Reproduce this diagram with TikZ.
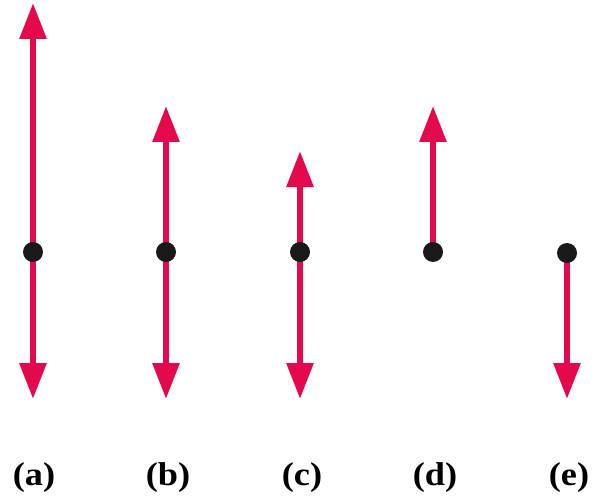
\documentclass[tikz,border=0pt]{standalone}
\usepackage{fontspec}
\setmainfont{Liberation Serif}
\usetikzlibrary{arrows.meta}
\definecolor{vec}{RGB}{228,8,76}
\begin{document}
\begin{tikzpicture}[x=1pt,y=-1pt,
  vecarrow/.style={draw=vec,line width=6pt,-{Triangle[width=26pt,length=36pt]}},
  dotnode/.style={circle,fill=black!90,minimum size=20pt,inner sep=0pt},
  lab/.style={font=\bfseries\fontsize{33}{33}\selectfont,inner sep=0pt}]
\useasboundingbox (0,0) rectangle (596,497);
% dots and tips
\coordinate (pa) at (33,252);
\coordinate (pb) at (166,252);
\coordinate (pc) at (300,252);
\coordinate (pd) at (433,252);
\coordinate (pe) at (567,253);
\coordinate (ua) at (33,3);
\coordinate (ub) at (166,106);
\coordinate (uc) at (300,151);
\coordinate (ud) at (433,106);
\coordinate (la) at (33,399);
\coordinate (lb) at (166,399);
\coordinate (lc) at (300,399);
\coordinate (le) at (567,399);
\draw[vecarrow] (pa) -- (ua);
\draw[vecarrow] (pa) -- (la);
\draw[vecarrow] (pb) -- (ub);
\draw[vecarrow] (pb) -- (lb);
\draw[vecarrow] (pc) -- (uc);
\draw[vecarrow] (pc) -- (lc);
\draw[vecarrow] (pd) -- (ud);
\draw[vecarrow] (pe) -- (le);
\node[dotnode] (da) at (pa) {};
\node[dotnode] (db) at (pb) {};
\node[dotnode] (dc) at (pc) {};
\node[dotnode] (dd) at (pd) {};
\node[dotnode] (de) at (pe) {};
% labels
\node[lab,xscale=1.1] (ta) at (34,478) {(a)};
\node[lab,xscale=1.1] (tb) at (168,478) {(b)};
\node[lab,xscale=1.1] (tc) at (302,478) {(c)};
\node[lab,xscale=1.1] (td) at (435,478) {(d)};
\node[lab,xscale=1.1] (te) at (569,478) {(e)};
\end{tikzpicture}
\end{document}
